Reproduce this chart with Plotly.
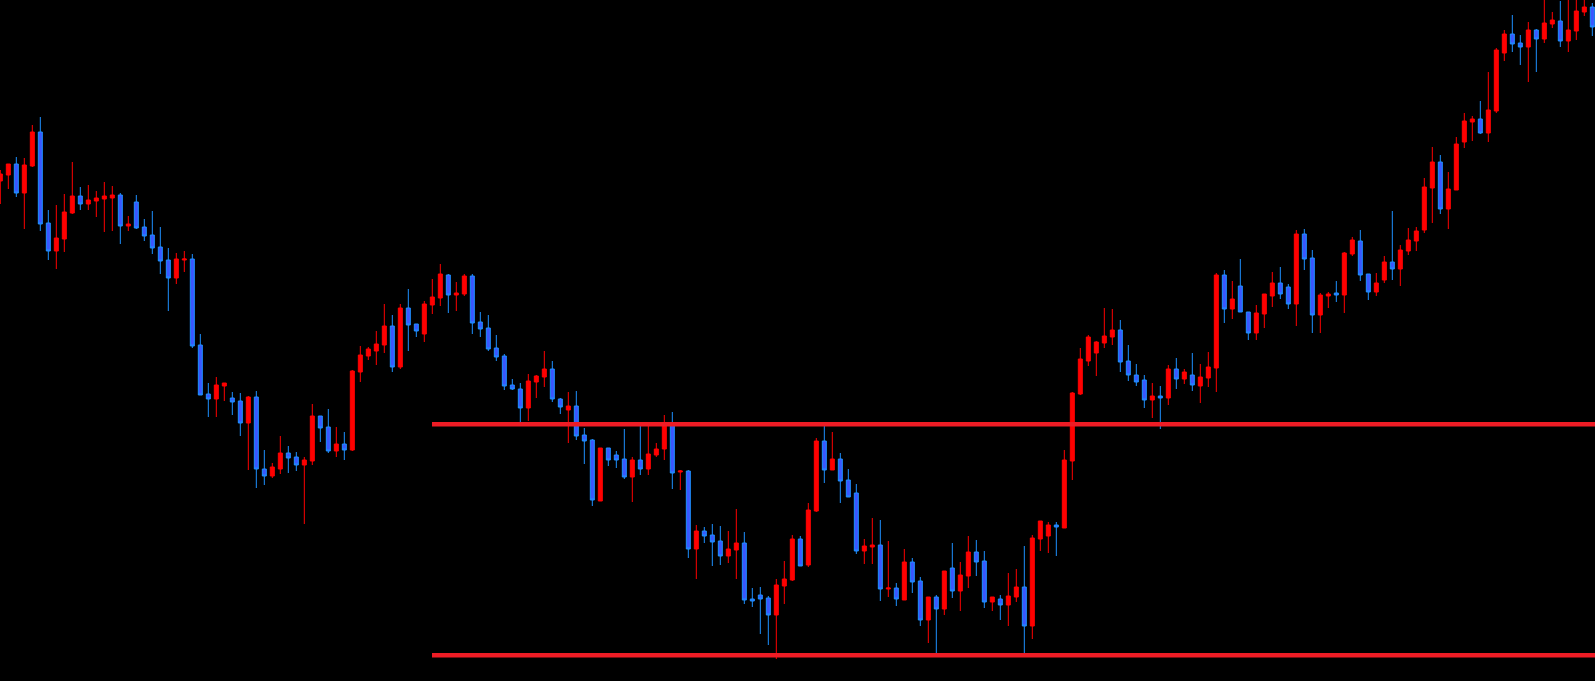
import plotly.graph_objects as go

# OHLC values (price units, arbitrary scale)
open_ = [500, 506, 517, 488, 515, 549, 458, 430, 442, 468, 485, 477, 480, 482, 483, 486, 455, 479, 454, 446,
         434, 421, 403, 421, 422, 336, 287, 282, 295, 283, 280, 258, 284, 212, 205, 212, 228, 224, 216, 220,
         265, 254, 230, 237, 231, 309, 325, 330, 336, 355, 314, 373, 357, 347, 376, 383, 406, 386, 387, 405,
         359, 353, 333, 325, 296, 292, 273, 299, 304, 312, 282, 271, 275, 246, 241, 180, 233, 226, 222, 204,
         221, 212, 226, 232, 257, 209, 210, 132, 150, 146, 140, 125, 131, 138, 82, 86, 83, 66, 95, 101,
         142, 116, 170, 240, 211, 222, 201, 188, 130, 134, 136, 92, 93, 81, 119, 100, 61, 84, 72, 113,
         90, 105, 129, 120, 79, 82, 76, 84, 94, 55, 142, 145, 156, 153, 220, 287, 320, 328, 338, 344,
         351, 320, 306, 301, 281, 285, 283, 312, 302, 306, 295, 303, 313, 406, 372, 395, 369, 348, 367, 385,
         398, 394, 377, 447, 423, 366, 385, 388, 386, 427, 440, 407, 389, 401, 419, 412, 430, 440, 451, 493,
         519, 472, 491, 539, 559, 562, 548, 570, 628, 647, 638, 634, 651, 642, 657, 660, 640, 650, 669, 674]
high = [511, 517, 524, 523, 556, 564, 471, 476, 487, 519, 494, 496, 490, 499, 495, 488, 465, 486, 462, 470,
        454, 433, 428, 430, 427, 347, 298, 304, 298, 289, 288, 285, 290, 231, 218, 245, 235, 229, 224, 277,
        265, 272, 254, 249, 311, 335, 334, 350, 377, 366, 377, 392, 357, 380, 402, 417, 407, 399, 407, 407,
        369, 366, 346, 327, 302, 298, 307, 306, 330, 320, 283, 289, 290, 253, 242, 233, 233, 230, 252, 224,
        258, 258, 238, 266, 269, 211, 211, 156, 154, 157, 155, 150, 172, 149, 93, 94, 85, 102, 120, 146,
        145, 178, 243, 256, 249, 228, 212, 197, 142, 163, 161, 140, 98, 132, 123, 104, 84, 86, 110, 138,
        119, 145, 141, 130, 84, 86, 108, 112, 135, 146, 160, 159, 159, 231, 289, 333, 346, 340, 373, 372,
        361, 336, 317, 306, 298, 295, 316, 323, 312, 328, 317, 329, 408, 411, 400, 422, 369, 376, 387, 409,
        414, 397, 451, 452, 431, 388, 389, 400, 429, 444, 451, 407, 408, 425, 470, 436, 453, 454, 503, 534,
        526, 509, 544, 568, 565, 580, 609, 633, 651, 666, 646, 659, 652, 685, 669, 680, 688, 690, 686, 678]
low = [477, 492, 484, 452, 514, 450, 421, 412, 429, 467, 471, 471, 464, 449, 450, 437, 450, 452, 440, 427,
       407, 370, 397, 409, 333, 286, 264, 264, 280, 266, 245, 211, 193, 196, 203, 207, 208, 210, 157, 216,
       239, 228, 224, 221, 230, 299, 321, 316, 328, 309, 312, 330, 344, 339, 367, 375, 368, 370, 385, 347,
       344, 330, 320, 291, 291, 259, 260, 283, 294, 279, 267, 238, 241, 217, 175, 180, 215, 213, 202, 179,
       206, 206, 224, 221, 192, 191, 123, 102, 138, 115, 116, 118, 102, 77, 74, 47, 36, 22, 77, 100,
       115, 114, 169, 198, 211, 178, 184, 127, 117, 117, 80, 84, 75, 81, 88, 55, 38, 27, 66, 83,
       70, 93, 105, 73, 70, 61, 55, 79, 27, 42, 130, 128, 125, 153, 201, 286, 315, 305, 333, 336,
       309, 300, 295, 273, 263, 252, 276, 292, 297, 290, 278, 294, 289, 358, 362, 369, 341, 341, 353, 374,
       382, 372, 355, 411, 348, 348, 373, 379, 368, 425, 400, 381, 385, 398, 401, 395, 426, 430, 448, 458,
       467, 452, 491, 533, 540, 547, 539, 568, 620, 629, 616, 599, 609, 638, 653, 634, 629, 641, 665, 645]
close = [507, 517, 488, 516, 549, 457, 430, 443, 469, 485, 477, 481, 483, 485, 486, 455, 457, 453, 445, 433,
         420, 403, 422, 422, 335, 286, 282, 296, 298, 279, 258, 284, 212, 205, 214, 228, 223, 216, 221, 265,
         253, 230, 237, 231, 310, 326, 332, 337, 355, 314, 373, 356, 350, 377, 384, 407, 386, 388, 405, 358,
         352, 332, 324, 295, 292, 273, 300, 305, 312, 282, 274, 275, 245, 240, 181, 233, 221, 221, 204, 221,
         212, 227, 232, 257, 208, 210, 132, 150, 145, 139, 125, 132, 138, 81, 80, 82, 66, 96, 102, 142,
         115, 171, 240, 211, 222, 200, 184, 130, 135, 136, 92, 93, 82, 119, 99, 61, 84, 72, 110, 90,
         106, 129, 119, 79, 84, 76, 85, 94, 55, 143, 160, 156, 154, 221, 288, 322, 344, 339, 345, 351,
         319, 306, 299, 281, 285, 283, 312, 302, 309, 296, 304, 314, 406, 372, 382, 369, 348, 368, 387, 398,
         387, 377, 447, 422, 366, 386, 387, 386, 428, 441, 406, 389, 398, 419, 412, 431, 441, 450, 494, 519,
         472, 492, 537, 560, 562, 548, 571, 631, 647, 637, 634, 651, 642, 658, 661, 640, 651, 670, 674, 654]

# Horizontal support/resistance levels and the bar they start from
level_prices = [256.7, 25.7]
level_start = 53.96

bars = list(range(len(close)))

UP_RED = "#FF0000"
DOWN_FILL = "#3A56FF"
DOWN_LINE = "#1E90FF"
LEVEL_RED = "#EE1C25"

fig = go.Figure()
fig.add_trace(go.Candlestick(
    x=bars, open=open_, high=high, low=low, close=close,
    increasing=dict(line=dict(color=UP_RED, width=1), fillcolor=UP_RED),
    decreasing=dict(line=dict(color=DOWN_LINE, width=1), fillcolor=DOWN_FILL),
    whiskerwidth=0,
    hoverinfo="skip",
    showlegend=False,
))

for p in level_prices:
    fig.add_shape(type="line", xref="x", yref="y",
                  x0=level_start, x1=len(close) + 2, y0=p, y1=p,
                  line=dict(color=LEVEL_RED, width=4.5), layer="above")

fig.update_layout(
    width=1595, height=681,
    margin=dict(l=0, r=0, t=0, b=0, pad=0),
    paper_bgcolor="black", plot_bgcolor="black",
    boxgap=0.5, boxgroupgap=0,
    showlegend=False,
    xaxis=dict(range=[-0.04, -0.04 + 1595 / 8], visible=False, showgrid=False,
               zeroline=False, rangeslider=dict(visible=False), fixedrange=True),
    yaxis=dict(range=[0, 681], visible=False, showgrid=False, zeroline=False, fixedrange=True),
)

fig.write_html("out.html", config={"displayModeBar": False, "staticPlot": True},
               post_script="document.body.style.margin='0';document.body.style.background='black';")
